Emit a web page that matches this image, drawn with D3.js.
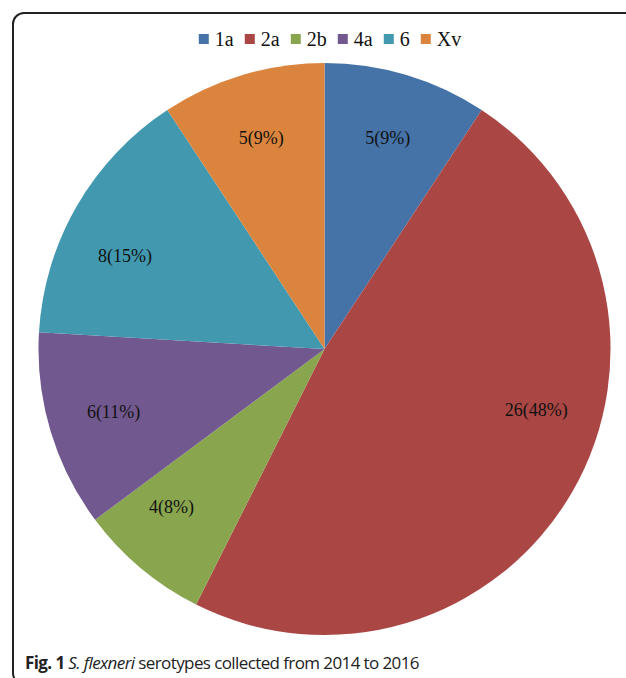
<!DOCTYPE html>
<html>
<head>
<meta charset="utf-8">
<script src="https://cdn.jsdelivr.net/npm/d3@7"></script>
<style>
  html, body { margin: 0; padding: 0; background: #fff; }
  svg { display: block; }
</style>
</head>
<body>
<div id="chart"></div>
<script>
// serotype counts (clockwise from 12 o'clock)
var serotypes = ["1a", "2a", "2b", "4a", "6", "Xv"];
var counts = [5, 26, 4, 6, 8, 5];
// percentages as printed on the slices
var percents = [9, 48, 8, 11, 15, 9];
var colors = ["#4572A7", "#AA4643", "#89A54E", "#71588F", "#4198AF", "#DB843D"];

var svgWidth = 626;
var svgHeight = 678;

var svg = d3.select("#chart")
  .append("svg")
  .attr("width", svgWidth)
  .attr("height", svgHeight);

// frame of the figure panel (runs off right and bottom)
svg.append("rect")
  .attr("x", 13)
  .attr("y", 13)
  .attr("width", 700)
  .attr("height", 671)
  .attr("rx", 11)
  .attr("fill", "none")
  .attr("stroke", "#222")
  .attr("stroke-width", 2);

var cx = 324.5, cy = 349, radius = 286;

var color = d3.scaleOrdinal()
  .domain(serotypes)
  .range(colors);

var pie = d3.pie()
  .sort(null)
  .value(d => d.count);

var data = serotypes.map((s, i) => ({ name: s, count: counts[i], pct: percents[i] }));
var arcs = pie(data);

var arc = d3.arc().innerRadius(0).outerRadius(radius);

var pieGroup = svg.append("g")
  .attr("transform", `translate(${cx}, ${cy})`);

pieGroup.selectAll("path")
  .data(arcs)
  .enter()
  .append("path")
  .attr("d", arc)
  .attr("fill", d => color(d.data.name));

// excel's "best fit" moves a few labels off the slice bisector (degrees)
var angleShift = { "2a": -14, "2b": 4, "6": -5 };
var labelR = radius * 0.77;

function labelAngle(d) {
  return (d.startAngle + d.endAngle) / 2 + (angleShift[d.data.name] || 0) * Math.PI / 180;
}

pieGroup.selectAll("text.slice-label")
  .data(arcs)
  .enter()
  .append("text")
  .attr("class", "slice-label")
  .attr("x", d => labelR * Math.sin(labelAngle(d)))
  .attr("y", d => -labelR * Math.cos(labelAngle(d)))
  .attr("text-anchor", "middle")
  .attr("dominant-baseline", "central")
  .attr("font-family", "'Liberation Serif', 'Times New Roman', serif")
  .attr("font-size", 18)
  .attr("fill", "#111")
  .text(d => `${d.data.count}(${d.data.pct}%)`);

// legend across the top
var legend = svg.append("g");
var legendItems = legend.selectAll("g")
  .data(serotypes)
  .enter()
  .append("g");

legendItems.append("rect")
  .attr("width", 10)
  .attr("height", 10)
  .attr("y", -5)
  .attr("fill", d => color(d));

legendItems.append("text")
  .attr("x", 16)
  .attr("dominant-baseline", "central")
  .attr("font-family", "'Liberation Serif', 'Times New Roman', serif")
  .attr("font-size", 20)
  .attr("fill", "#111")
  .text(d => d);

var xPos = 0;
legendItems.each(function() {
  var w = this.getBBox().width;
  d3.select(this).attr("transform", `translate(${xPos}, 0)`);
  xPos += w + 11;
});
var legendWidth = xPos - 11;
legend.attr("transform", `translate(${330 - legendWidth / 2}, 39)`);

// caption
var caption = svg.append("text")
  .attr("x", 25)
  .attr("y", 669)
  .attr("font-family", "'Open Sans', 'Noto Sans', sans-serif")
  .attr("font-size", 17)
  .attr("letter-spacing", -0.6)
  .attr("fill", "#222");

caption.append("tspan").attr("font-weight", "bold").text("Fig. 1");
caption.append("tspan").attr("font-style", "italic").text(" S. flexneri");
caption.append("tspan").text(" serotypes collected from 2014 to 2016");
</script>
</body>
</html>
